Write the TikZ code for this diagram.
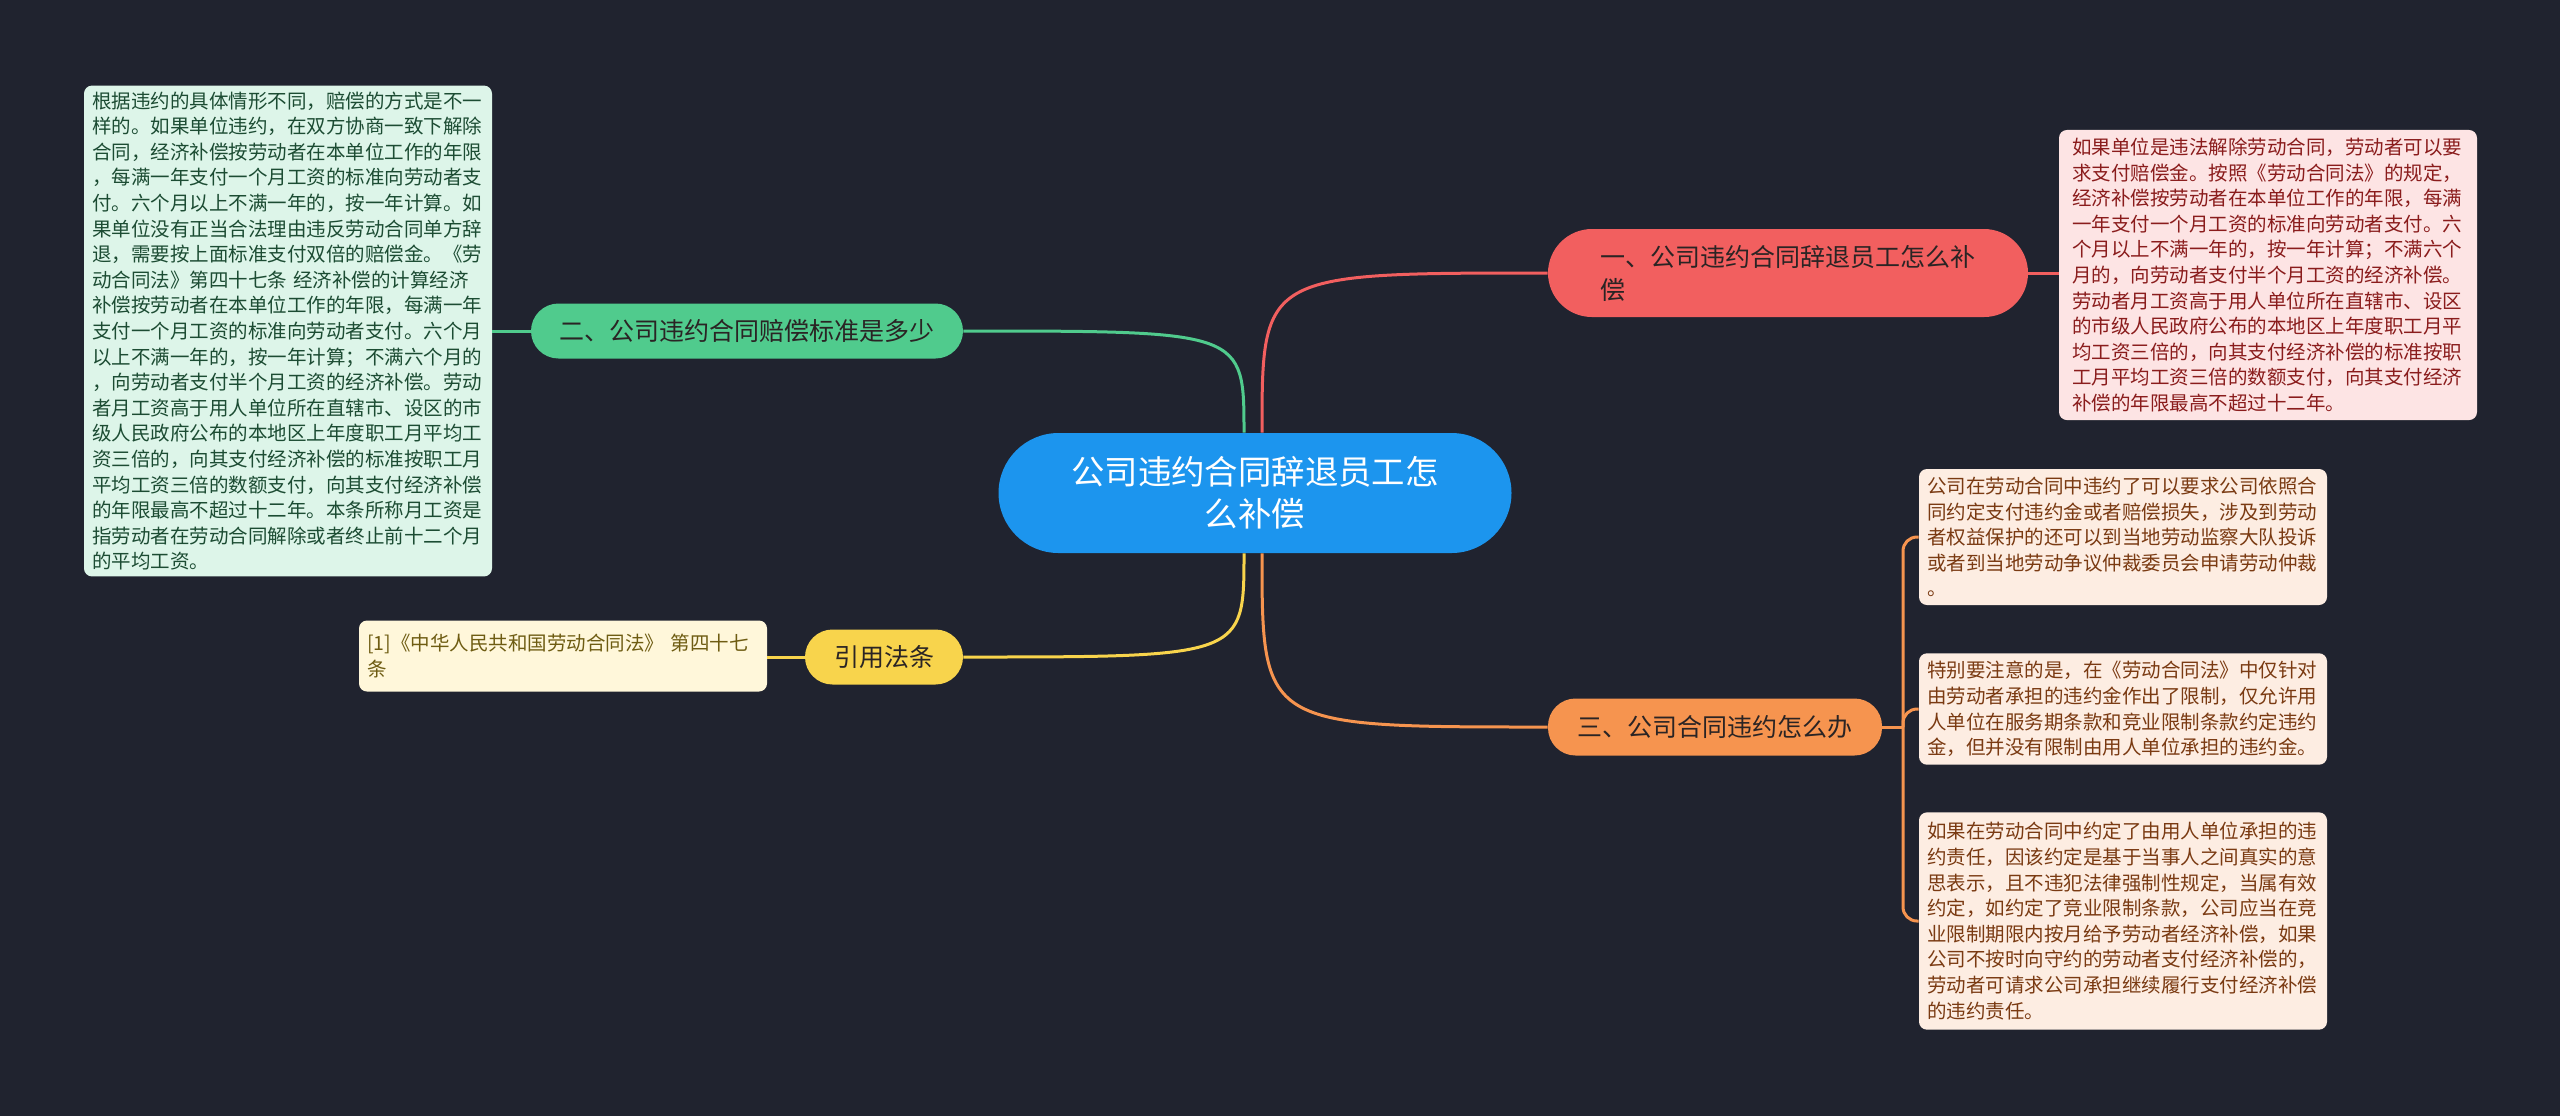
\documentclass[tikz,border=0pt]{standalone}
\usepackage{fontspec}
\setmainfont{Noto Sans CJK SC}
\definecolor{bgcol}{HTML}{20232F}
\definecolor{ctrblue}{HTML}{1C95EE}
\definecolor{redbr}{HTML}{F25F5F}
\definecolor{greenbr}{HTML}{50CB8D}
\definecolor{yellowbr}{HTML}{F8D44C}
\definecolor{orangebr}{HTML}{F6944F}
\definecolor{brtext}{HTML}{2A2424}
\definecolor{greenleaf}{HTML}{DDF5E9}
\definecolor{greentext}{HTML}{1C4C33}
\definecolor{redleaf}{HTML}{FDE4E4}
\definecolor{redtext}{HTML}{8A1C1C}
\definecolor{orangeleaf}{HTML}{FDEDE2}
\definecolor{orangetext}{HTML}{7A3A12}
\definecolor{yellowleaf}{HTML}{FFF7DA}
\definecolor{yellowtext}{HTML}{6E5C12}
\usetikzlibrary{positioning}

\begin{document}
\begin{tikzpicture}[x=0.5pt, y=-0.5pt,
    topic/.style={rounded corners=30pt, fill=ctrblue, text=white, minimum width=256.5pt,
        minimum height=60pt, align=center, font=\fontsize{16.7pt}{21pt}\selectfont},
    branch/.style={fill=#1, text=brtext, minimum height=27.5pt, rounded corners=13.75pt,
        align=left, font=\fontsize{12.5pt}{16.5pt}\selectfont},
    leaf/.style={fill=#1, rounded corners=4pt, text width=196pt, inner xsep=4pt, inner ysep=4pt,
        align=left, font=\fontsize{9.75pt}{12.8pt}\selectfont},
    link/.style={draw=#1, line width=1.5pt}
]
\useasboundingbox (0,0) rectangle (2560,1116);
\fill[bgcol] (0,0) rectangle (2560,1116);

% Centre et branches
\node[topic] (ctr) at (1255,493) {公司违约合同辞退员工怎\\么补偿};
\node[branch=redbr, minimum width=240pt, minimum height=44pt, rounded corners=22pt] (b1) at (1788,273)
    {一、公司违约合同辞退员工怎么补\\偿};
\node[branch=greenbr, minimum width=216pt] (b2) at (747,331) {二、公司违约合同赔偿标准是多少};
\node[branch=yellowbr, minimum width=79pt] (b4) at (884,657) {引用法条};
\node[branch=orangebr, minimum width=167pt, minimum height=28.5pt] (b3) at (1715,727) {三、公司合同违约怎么办};

% Feuilles
\node[leaf=redleaf, text=redtext, inner xsep=6.5pt] (l1) at (2268,275)
    {如果单位是违法解除劳动合同，劳动者可以要\\求支付赔偿金。按照《劳动合同法》的规定，\\经济补偿按劳动者在本单位工作的年限，每满\\一年支付一个月工资的标准向劳动者支付。六\\个月以上不满一年的，按一年计算；不满六个\\月的，向劳动者支付半个月工资的经济补偿。\\劳动者月工资高于用人单位所在直辖市、设区\\的市级人民政府公布的本地区上年度职工月平\\均工资三倍的，向其支付经济补偿的标准按职\\工月平均工资三倍的数额支付，向其支付经济\\补偿的年限最高不超过十二年。};
\node[leaf=greenleaf, text=greentext, inner ysep=3pt] (l2) at (288,331)
    {根据违约的具体情形不同，赔偿的方式是不一\\样的。如果单位违约，在双方协商一致下解除\\合同，经济补偿按劳动者在本单位工作的年限\\，每满一年支付一个月工资的标准向劳动者支\\付。六个月以上不满一年的，按一年计算。如\\果单位没有正当合法理由违反劳动合同单方辞\\退，需要按上面标准支付双倍的赔偿金。《劳\\动合同法》第四十七条 经济补偿的计算经济\\补偿按劳动者在本单位工作的年限，每满一年\\支付一个月工资的标准向劳动者支付。六个月\\以上不满一年的，按一年计算；不满六个月的\\，向劳动者支付半个月工资的经济补偿。劳动\\者月工资高于用人单位所在直辖市、设区的市\\级人民政府公布的本地区上年度职工月平均工\\资三倍的，向其支付经济补偿的标准按职工月\\平均工资三倍的数额支付，向其支付经济补偿\\的年限最高不超过十二年。本条所称月工资是\\指劳动者在劳动合同解除或者终止前十二个月\\的平均工资。};
\node[leaf=yellowleaf, text=yellowtext, minimum height=35.5pt] (l4) at (563,656)
    {[1]《中华人民共和国劳动合同法》 第四十七\\条};
\node[leaf=orangeleaf, text=orangetext] (l3a) at (2123,537)
    {公司在劳动合同中违约了可以要求公司依照合\\同约定支付违约金或者赔偿损失，涉及到劳动\\者权益保护的还可以到当地劳动监察大队投诉\\或者到当地劳动争议仲裁委员会申请劳动仲裁\\。};
\node[leaf=orangeleaf, text=orangetext] (l3b) at (2123,709)
    {特别要注意的是，在《劳动合同法》中仅针对\\由劳动者承担的违约金作出了限制，仅允许用\\人单位在服务期条款和竞业限制条款约定违约\\金，但并没有限制由用人单位承担的违约金。};
\node[leaf=orangeleaf, text=orangetext, inner ysep=5pt] (l3c) at (2123,921)
    {如果在劳动合同中约定了由用人单位承担的违\\约责任，因该约定是基于当事人之间真实的意\\思表示，且不违犯法律强制性规定，当属有效\\约定，如约定了竞业限制条款，公司应当在竞\\业限制期限内按月给予劳动者经济补偿，如果\\公司不按时向守约的劳动者支付经济补偿的，\\劳动者可请求公司承担继续履行支付经济补偿\\的违约责任。};

% Liens
\draw[link=redbr] ([xshift=3.5pt]ctr.north) .. controls (1262,273) .. (b1.west);
\draw[link=greenbr] ([xshift=-5.5pt]ctr.north) .. controls (1244,331) .. (b2.east);
\draw[link=yellowbr] ([xshift=-5.5pt]ctr.south) .. controls (1244,657) .. (b4.east);
\draw[link=orangebr] ([xshift=3.5pt]ctr.south) .. controls (1262,727) .. (b3.west);

\draw[link=redbr] (b1.east) -- (l1.west |- b1.east);
\draw[link=greenbr] (b2.west) -- (l2.east |- b2.west);
\draw[link=yellowbr] (b4.west) -- (l4.east |- b4.west);

\coordinate (fork) at (1903,727);
\draw[link=orangebr] (b3.east) -- (fork);
\foreach \lf in {l3a,l3b,l3c}
    \draw[link=orangebr, rounded corners=7pt] (fork) |- (\lf.west);
\end{tikzpicture}
\end{document}
